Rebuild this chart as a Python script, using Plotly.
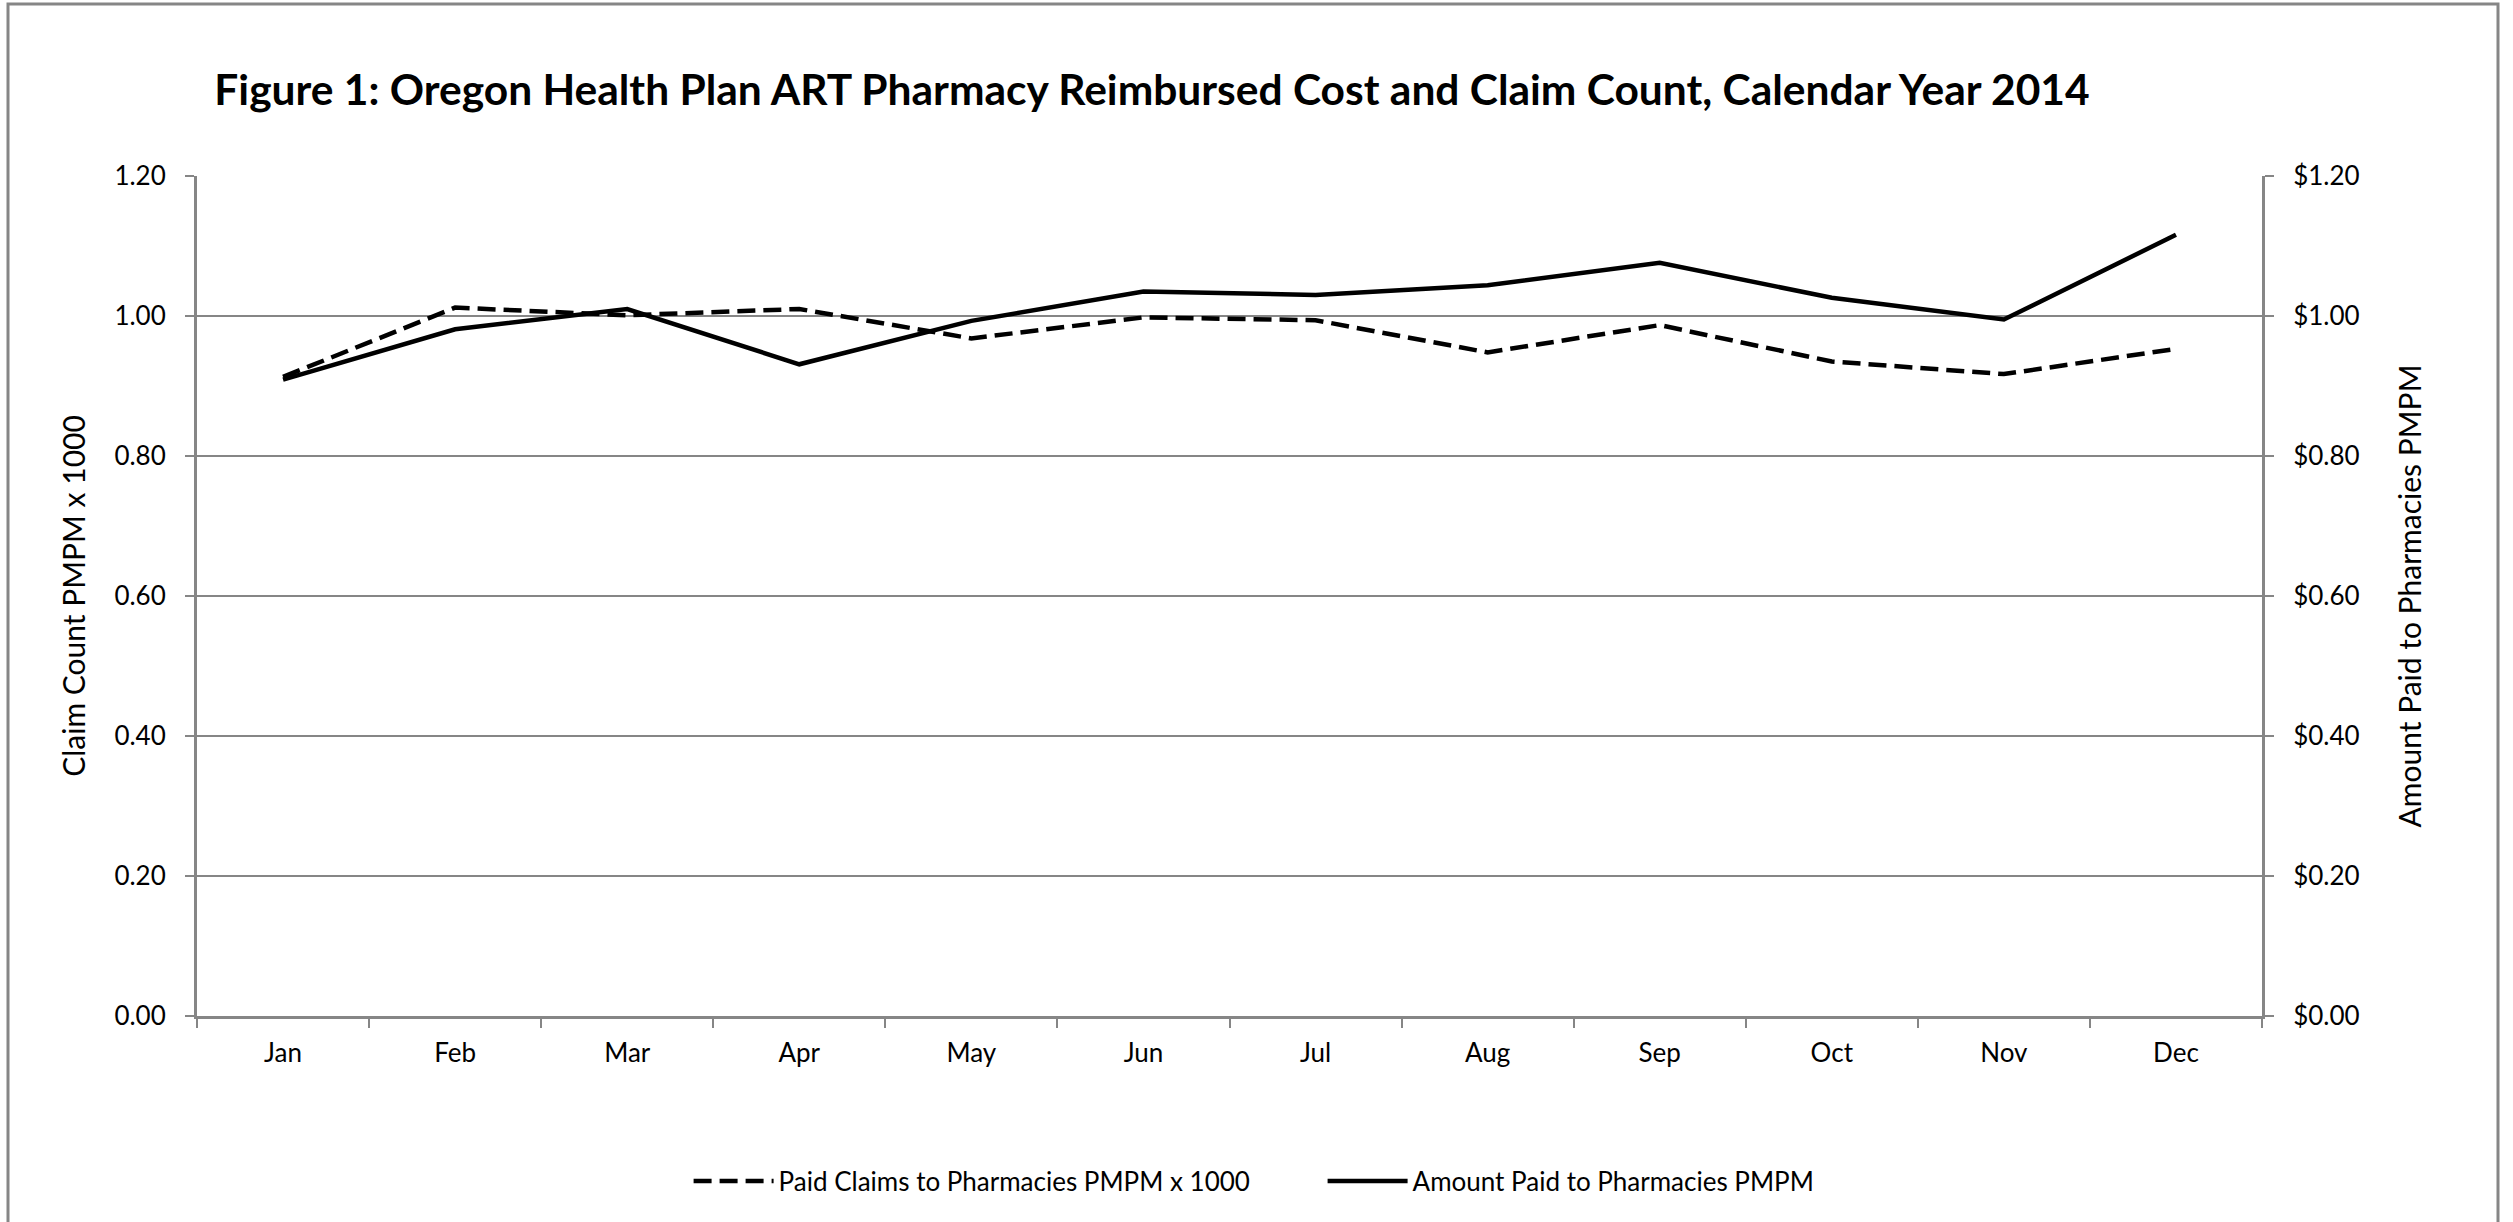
import plotly.graph_objects as go

# ---- data ----
months = ["Jan", "Feb", "Mar", "Apr", "May", "Jun", "Jul", "Aug", "Sep", "Oct", "Nov", "Dec"]
paid_claims = [0.913, 1.012, 1.001, 1.010, 0.968, 0.998, 0.994, 0.948, 0.987, 0.935, 0.917, 0.953]
amount_paid = [0.909, 0.981, 1.010, 0.931, 0.993, 1.035, 1.030, 1.044, 1.076, 1.026, 0.995, 1.116]
y_ticks = [0.0, 0.2, 0.4, 0.6, 0.8, 1.0, 1.2]
y_left_labels = ["0.00", "0.20", "0.40", "0.60", "0.80", "1.00", "1.20"]
y_right_labels = ["$0.00", "$0.20", "$0.40", "$0.60", "$0.80", "$1.00", "$1.20"]

title_text = "Figure 1: Oregon Health Plan ART Pharmacy Reimbursed Cost and Claim Count, Calendar Year 2014"
left_title = "Claim Count PMPM x 1000"
right_title = "Amount Paid to Pharmacies PMPM"
claims_name = "Paid Claims to Pharmacies PMPM x 1000"
amount_name = "Amount Paid to Pharmacies PMPM"

# ---- layout geometry ----
W, H = 2513, 1222
ML, MR, MT, MB = 197, 251, 176, 206
FONT = "Lato, 'Open Sans', sans-serif"
GRAY = "#868686"

fig = go.Figure()
fig.add_trace(go.Scatter(
    x=months, y=paid_claims, name=claims_name, mode="lines",
    line=dict(color="black", width=4.5, dash="18px,8px"), yaxis="y"))
fig.add_trace(go.Scatter(
    x=months, y=amount_paid, name=amount_name, mode="lines",
    line=dict(color="black", width=4.5), yaxis="y2"))

pw = W - ML - MR
ph = H - MT - MB
def px_x(x):
    return (x - ML) / pw
def px_y(y):
    return (H - MB - y) / ph

fig.update_layout(
    width=W, height=H,
    margin=dict(l=ML, r=MR, t=MT, b=MB, pad=0),
    paper_bgcolor="white", plot_bgcolor="white",
    font=dict(family=FONT, color="black", size=26),
    title=dict(text="<b>" + title_text + "</b>", x=1152 / W, xanchor="center",
               xref="container", y=1 - 90 / H, yanchor="middle", yref="container",
               font=dict(family=FONT, size=42.5, color="black")),
    xaxis=dict(type="category", range=[-0.5, 11.5], tickson="boundaries",
               ticks="outside", ticklen=9, tickwidth=2, tickcolor=GRAY,
               showline=True, linecolor=GRAY, linewidth=3, showgrid=False,
               tickfont=dict(size=26), ticklabelstandoff=12, fixedrange=True),
    yaxis=dict(range=[0, 1.2], tickvals=y_ticks, ticktext=y_left_labels,
               ticks="outside", ticklen=9, tickwidth=2, tickcolor=GRAY,
               showline=True, linecolor=GRAY, linewidth=3,
               showgrid=True, gridcolor=GRAY, gridwidth=1.5, zeroline=False,
               title=dict(text=left_title, standoff=20, font=dict(size=30)),
               tickfont=dict(size=26), ticklabelstandoff=14),
    yaxis2=dict(range=[0, 1.2], tickvals=y_ticks, ticktext=y_right_labels,
                overlaying="y", side="right",
                ticks="outside", ticklen=9, tickwidth=2, tickcolor=GRAY,
                showline=True, linecolor=GRAY, linewidth=3,
                showgrid=False, zeroline=False,
                title=dict(text=right_title, standoff=42, font=dict(size=30)),
                tickfont=dict(size=26), ticklabelstandoff=14),
    legend=dict(orientation="h", x=0.5263, xanchor="center", xref="container",
                y=1 - 1181 / H, yanchor="middle", yref="container",
                itemwidth=80, entrywidth=539,
                font=dict(size=26), bgcolor="rgba(0,0,0,0)"),
    showlegend=True,
)

# outer chart border
fig.add_shape(type="rect", xref="paper", yref="paper",
              x0=px_x(8), x1=px_x(2498), y0=px_y(1240), y1=px_y(4),
              line=dict(color=GRAY, width=3), fillcolor="rgba(0,0,0,0)", layer="below")

fig.write_html("out.html", config={"displayModeBar": False})
